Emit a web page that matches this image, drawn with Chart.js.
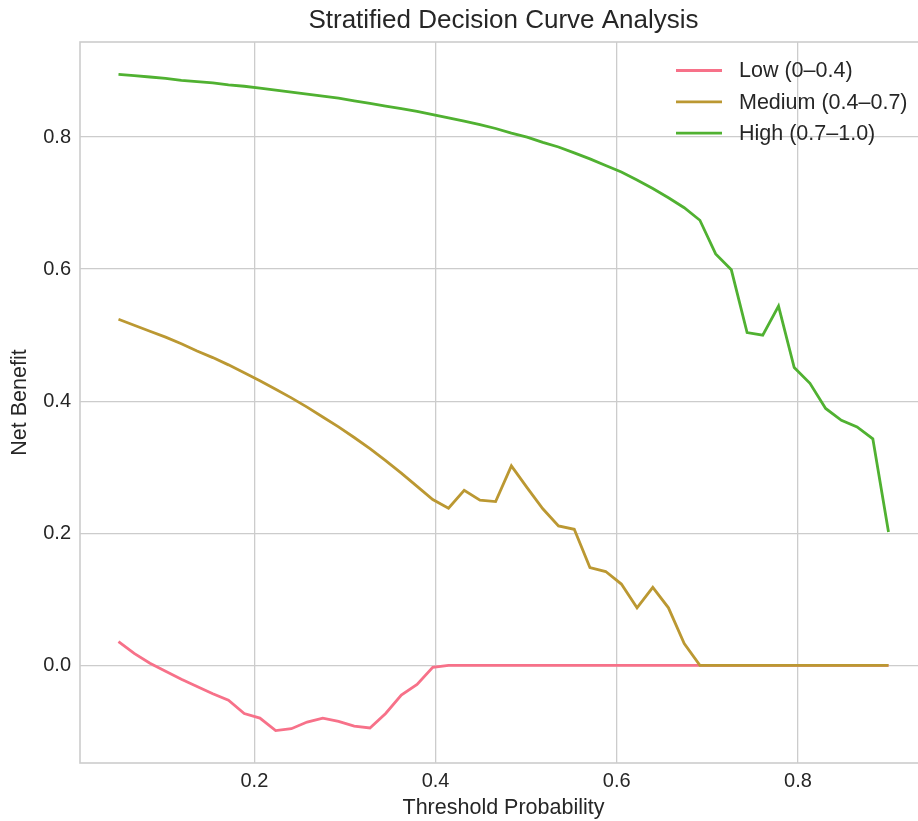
<!DOCTYPE html>
<html lang="en">
<head>
    <meta charset="UTF-8">
    <title>Stratified Decision Curve Analysis</title>
    <script src="https://cdn.jsdelivr.net/npm/chart.js"></script>
    <style>
        body { margin: 0; background: #fff; overflow: hidden; }
        #grafico { display: block; }
    </style>
</head>
<body>
    <!-- the plot runs a little past the right edge of the window, as in the reference -->
    <canvas id="grafico" width="928" height="821"></canvas>

    <script>
        // threshold probabilities (x)
        const thresholds = [0.05, 0.0673, 0.0847, 0.1020, 0.1194, 0.1367, 0.1541, 0.1714, 0.1888, 0.2061,
            0.2235, 0.2408, 0.2582, 0.2755, 0.2929, 0.3102, 0.3276, 0.3449, 0.3622, 0.3796,
            0.3969, 0.4143, 0.4316, 0.4490, 0.4663, 0.4837, 0.5010, 0.5184, 0.5357, 0.5531,
            0.5704, 0.5878, 0.6051, 0.6224, 0.6398, 0.6571, 0.6745, 0.6918, 0.7092, 0.7265,
            0.7439, 0.7612, 0.7786, 0.7959, 0.8133, 0.8306, 0.8480, 0.8653, 0.8827, 0.9000];

        const lowNB = [0.036, 0.018, 0.003, -0.009, -0.021, -0.032, -0.043, -0.053, -0.073, -0.080,
            -0.099, -0.096, -0.086, -0.080, -0.085, -0.092, -0.095, -0.073, -0.045, -0.029,
            -0.003, 0, 0, 0, 0, 0, 0, 0, 0, 0,
            0, 0, 0, 0, 0, 0, 0, 0, 0, 0,
            0, 0, 0, 0, 0, 0, 0, 0, 0, 0];

        const mediumNB = [0.524, 0.515, 0.506, 0.497, 0.487, 0.476, 0.466, 0.455, 0.443, 0.431,
            0.418, 0.405, 0.391, 0.376, 0.361, 0.345, 0.328, 0.310, 0.291, 0.271,
            0.251, 0.238, 0.265, 0.250, 0.248, 0.302, 0.269, 0.237, 0.211, 0.206,
            0.148, 0.142, 0.123, 0.087, 0.118, 0.087, 0.033, 0, 0, 0,
            0, 0, 0, 0, 0, 0, 0, 0, 0, 0];

        const highNB = [0.895, 0.893, 0.891, 0.889, 0.886, 0.884, 0.882, 0.879, 0.877, 0.874,
            0.871, 0.868, 0.865, 0.862, 0.859, 0.855, 0.851, 0.847, 0.843, 0.839,
            0.834, 0.829, 0.824, 0.819, 0.813, 0.806, 0.800, 0.792, 0.785, 0.776,
            0.767, 0.757, 0.747, 0.735, 0.722, 0.708, 0.693, 0.674, 0.623, 0.599,
            0.504, 0.500, 0.544, 0.451, 0.427, 0.389, 0.371, 0.361, 0.343, 0.202];

        const seriesLabels = ['Low (0–0.4)', 'Medium (0.4–0.7)', 'High (0.7–1.0)'];
        const xTicks = [0.2, 0.4, 0.6, 0.8];
        const yTicks = [0.0, 0.2, 0.4, 0.6, 0.8];

        const colori = ['#f77189', '#bb9832', '#50b131'];
        const serie = [lowNB, mediumNB, highNB];
        const testo = '#262626';
        const fontFam = '"Liberation Sans", Arial, sans-serif';

        const punti = (valori) => thresholds.map((x, i) => ({ x: x, y: valori[i] }));

        // title, spines and legend drawn inside the plot like matplotlib
        const decorazioni = {
            id: 'decorazioni',
            beforeDatasetsDraw(chart) {
                const { ctx, chartArea: a } = chart;
                ctx.save();
                ctx.strokeStyle = '#cccccc';
                ctx.lineWidth = 1.6;
                ctx.strokeRect(a.left, a.top, a.right - a.left, a.bottom - a.top);
                ctx.restore();
            },
            afterDraw(chart) {
                const { ctx, chartArea: a } = chart;
                ctx.save();
                ctx.fillStyle = testo;
                ctx.font = '26px ' + fontFam;
                ctx.textAlign = 'center';
                ctx.textBaseline = 'middle';
                ctx.fillText('Stratified Decision Curve Analysis', (a.left + a.right) / 2, 21);

                ctx.font = '21.5px ' + fontFam;
                ctx.textAlign = 'left';
                seriesLabels.forEach((lab, i) => {
                    const y = a.top + 28.5 + i * 31.3;
                    ctx.strokeStyle = colori[i];
                    ctx.lineWidth = 2.8;
                    ctx.beginPath();
                    ctx.moveTo(a.right - 251, y);
                    ctx.lineTo(a.right - 205, y);
                    ctx.stroke();
                    ctx.fillText(lab, a.right - 188, y + 1);
                });
                ctx.restore();
            }
        };

        const canvas = document.getElementById('grafico').getContext('2d');

        const grafico = new Chart(canvas, {
            type: 'line',
            data: {
                datasets: serie.map((s, i) => ({
                    label: seriesLabels[i],
                    data: punti(s),
                    borderColor: colori[i],
                    backgroundColor: colori[i],
                    borderWidth: 2.8,
                    pointRadius: 0,
                    tension: 0,
                    order: 3 - i // later series on top
                }))
            },
            options: {
                responsive: false,
                animation: false,
                layout: { padding: { top: 42, right: 1, bottom: 0, left: 0 } },
                plugins: {
                    legend: { display: false },
                    title: { display: false },
                    tooltip: { enabled: false }
                },
                scales: {
                    x: {
                        type: 'linear',
                        min: 0.0075,
                        max: 0.9425,
                        afterBuildTicks: (scale) => { scale.ticks = xTicks.map(v => ({ value: v })); },
                        afterFit: (scale) => { scale.height = 58; },
                        grid: { color: '#cccccc', lineWidth: 1.3, drawTicks: false },
                        border: { display: false },
                        ticks: {
                            color: testo, padding: 6,
                            font: { family: fontFam, size: 20 },
                            callback: (v) => v.toFixed(1)
                        },
                        title: {
                            display: true, text: 'Threshold Probability', color: testo,
                            font: { family: fontFam, size: 21.5 }, padding: { top: 0, bottom: 0 }
                        }
                    },
                    y: {
                        type: 'linear',
                        min: -0.148,
                        max: 0.944,
                        afterBuildTicks: (scale) => { scale.ticks = yTicks.map(v => ({ value: v })); },
                        afterFit: (scale) => { scale.width = 80; },
                        grid: { color: '#cccccc', lineWidth: 1.3, drawTicks: false },
                        border: { display: false },
                        ticks: {
                            color: testo, padding: 9,
                            font: { family: fontFam, size: 20 },
                            callback: (v) => v.toFixed(1)
                        },
                        title: {
                            display: true, text: 'Net Benefit', color: testo,
                            font: { family: fontFam, size: 21.5 }, padding: { top: 7, bottom: 0 }
                        }
                    }
                }
            },
            plugins: [decorazioni]
        });
    </script>
</body>
</html>
